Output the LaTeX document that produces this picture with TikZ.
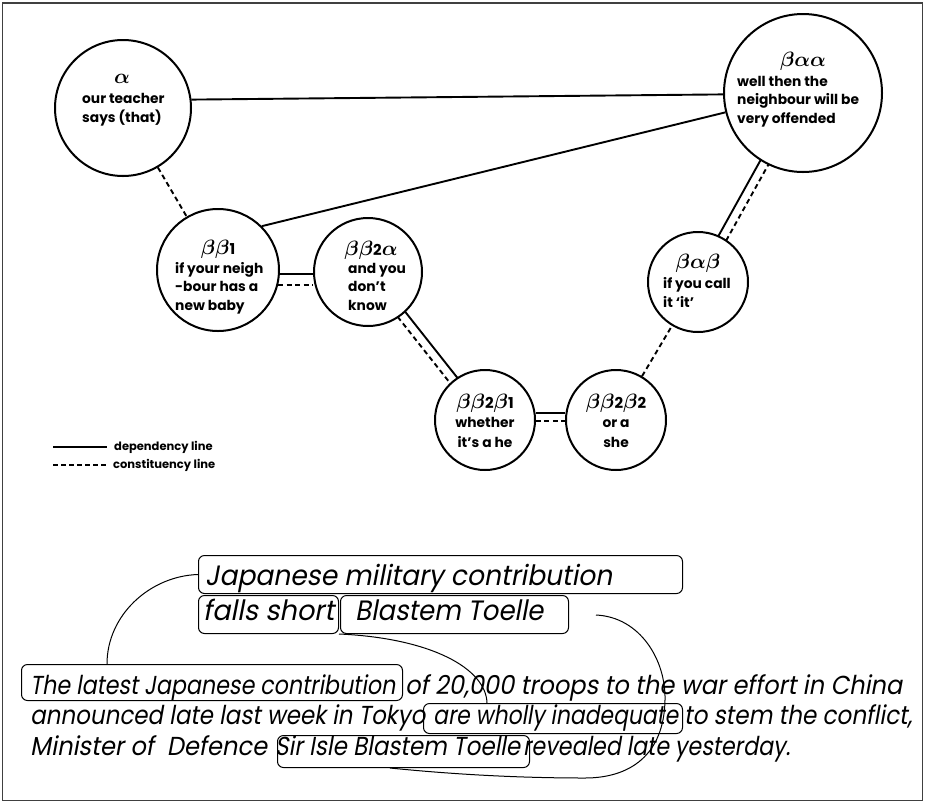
\documentclass[tikz,border=0pt]{standalone}
\usepackage{fontspec}
\usepackage{graphicx}
\newfontfamily\labfont{Poppins}
\newfontfamily\newsfont{Poppins}[FakeSlant=0.2]
\usetikzlibrary{calc}
\newcommand\fitto[2]{\resizebox{#1}{\height}{#2}}

\begin{document}
\begin{tikzpicture}[x=1pt,y=-1pt,
  circ/.style={draw, circle, line width=2pt, inner sep=0pt, minimum size=#1},
  lab/.style={font=\labfont\bfseries\fontsize{13.8}{18.5}\selectfont, align=left, inner sep=0pt, anchor=base west},
  labc/.style={font=\labfont\bfseries\fontsize{13.8}{20}\selectfont, align=center, inner sep=0pt, anchor=base},
  greek/.style={font=\fontsize{20}{20}\selectfont\boldmath, inner sep=0pt},
  dep/.style={line width=1.9pt},
  con/.style={line width=1.9pt, dash pattern=on 5pt off 3.5pt},
  hbox/.style={draw, rounded corners=6pt, line width=1pt, inner sep=0pt, anchor=north west},
  link/.style={line width=1pt},
  news/.style={font=\newsfont\fontsize{26}{30}\selectfont, inner sep=0pt, anchor=base west},
  head/.style={font=\newsfont\fontsize{28}{32}\selectfont, inner sep=0pt, anchor=base west},
  leg/.style={font=\labfont\bfseries\fontsize{11.5}{14}\selectfont, inner sep=0pt, anchor=west},
  frame/.style={draw=black!75, line width=1.2pt},
]
\newcommand\dg[1]{{\labfont\bfseries\fontsize{15}{15}\selectfont #1}}
\useasboundingbox (0,0) rectangle (926,804);
\draw[frame] (2.5,3) rectangle (922.5,800.5);

% circles
\node[circ=136pt] (a) at (123,108) {};
\node[circ=158pt] (baa) at (803,93) {};
\node[circ=122pt] (bb1) at (218,270) {};
\node[circ=108pt] (bb2a) at (368,272) {};
\node[circ=100pt] (bab) at (698,282) {};
\node[circ=100pt] (bb2b1) at (485,420) {};
\node[circ=100pt] (bb2b2) at (616,420) {};

% texts (base anchor = baseline of the last line)
\node[greek] (ga) at (122,79) {$\alpha$};
\node[lab] (la) at (82,122) {our teacher\\says (that)};
\node[greek] (gbaa) at (803,61) {$\beta\alpha\alpha$};
\node[lab] (lbaa) at (737,123) {well then the\\neighbour will be\\very offended};
\node[greek] (gbb1) at (218,249) {$\beta\beta$\dg{1}};
\node[lab] (lbb1) at (175,310) {if your neigh\\-bour has a\\new baby};
\node[greek] (gbb2a) at (371,250) {$\beta\beta$\dg{2}$\alpha$};
\node[lab] (lbb2a) at (348,310) {and you\\don’t\\know};
\node[greek] (gbab) at (698,263) {$\beta\alpha\beta$};
\node[lab] (lbab) at (663,307) {if you call\\it ‘it’};
\node[greek] (gbb2b1) at (485,403) {$\beta\beta$\dg{2}$\beta$\dg{1}};
\node[labc] (lbb2b1) at (485,447) {whether\\it’s a he};
\node[greek] (gbb2b2) at (616,403) {$\beta\beta$\dg{2}$\beta$\dg{2}};
\node[labc] (lbb2b2) at (616,447) {or a\\she};

% connectors
\draw[dep] (a.7) -- (baa.181.5);
\draw[dep] (bb1.45) -- (baa.194);
\draw[con] (a) -- (bb1);
\draw[dep] (bb1.-4) -- (bb1.-4 -| bb2a.west);
\draw[con] (bb1.-14) -- (bb1.-14 -| bb2a.west);
\draw[dep, shorten <=53.5pt, shorten >=49.5pt] ($(bb2a)!4.5pt!90:(bb2b1)$) -- ($(bb2b1)!4.5pt!-90:(bb2a)$);
\draw[con, shorten <=53.5pt, shorten >=49.5pt] ($(bb2a)!4.5pt!-90:(bb2b1)$) -- ($(bb2b1)!4.5pt!90:(bb2a)$);
\draw[dep] (bb2b1.8) -- (bb2b1.8 -| bb2b2.west);
\draw[con] (bb2b1.-1) -- (bb2b1.-1 -| bb2b2.west);
\draw[con] (bb2b2) -- (bab);
\draw[dep, shorten <=49.8pt, shorten >=78.8pt] ($(bab)!4.5pt!90:(baa)$) -- ($(baa)!4.5pt!-90:(bab)$);
\draw[con, shorten <=49.8pt, shorten >=78.8pt] ($(bab)!4.5pt!-90:(baa)$) -- ($(baa)!4.5pt!90:(bab)$);

% legend
\coordinate (l1a) at (53,447); \coordinate (l1b) at (107,447);
\coordinate (l2a) at (53,465); \coordinate (l2b) at (107,465);
\draw[line width=1.7pt] (l1a) -- (l1b);
\draw[line width=1.7pt, dash pattern=on 5pt off 3pt] (l2a) -- (l2b);
\node[leg] (lg1) at (114,447) {dependency line};
\node[leg] (lg2) at (113,465) {constituency line};

% headline
\node[head] (h1t) at (205,585) {\fitto{407pt}{Japanese military contribution}};
\node[head] (h2t) at (203,620) {\fitto{131pt}{falls short}};
\node[head] (h3t) at (355,620) {\fitto{188pt}{Blastem Toelle}};
\node[hbox, minimum width=484pt, minimum height=38pt] (h1) at (198,555) {};
\node[hbox, minimum width=140pt, minimum height=38pt] (h2) at (198,595) {};
\node[hbox, minimum width=228pt, minimum height=38pt] (h3) at (340,595) {};

% body text
\node[news] (t1a) at (30,694) {\fitto{365pt}{The latest Japanese contribution}};
\node[news] (t1b) at (405,694) {\fitto{497pt}{of 20,000 troops to the war effort in China}};
\node[news] (t2a) at (30,724) {\fitto{395pt}{announced late last week in Tokyo}};
\node[news] (t2b) at (433,724) {\fitto{245pt}{are wholly inadequate}};
\node[news] (t2c) at (684,724) {\fitto{228pt}{to stem the conflict,}};
\node[news] (t3a) at (30,755) {\fitto{237pt}{Minister of\ \ Defence}};
\node[news] (t3b) at (275,755) {\fitto{245pt}{Sir Isle Blastem Toelle}};
\node[news] (t3c) at (523,755) {\fitto{267pt}{revealed late yesterday.}};
\node[hbox, minimum width=381pt, minimum height=36pt] (b1) at (21,664) {};
\node[hbox, minimum width=259pt, minimum height=30pt] (b2) at (423,703) {};
\node[hbox, minimum width=252pt, minimum height=32pt] (b3) at (277,735) {};

% links
\draw[link] (h1.west) .. controls (150,576) and (107,615) .. ($(b1.north west)+(86,0)$);
\draw[link] (h2.south east) .. controls (430,638) and (486,668) .. ($(b2.north west)+(64,0)$);
\coordinate (c3) at (596,615);
\draw[link] (c3) .. controls (640,617) and (666,660) .. (665,700)
  .. controls (664,755) and (630,778) .. (585,778)
  .. controls (500,778) and (430,772) .. ($(b3.south west)+(113,0)$);
\end{tikzpicture}
\end{document}
